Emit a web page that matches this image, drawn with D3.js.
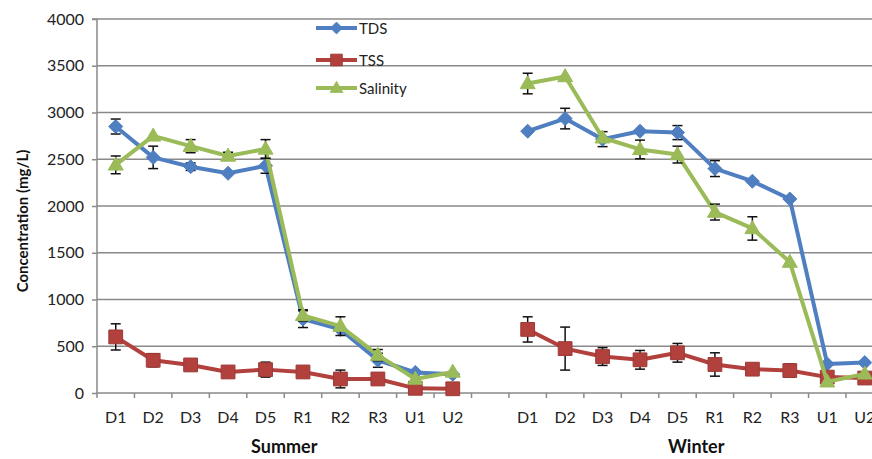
<!DOCTYPE html>
<html>
<head>
<meta charset="utf-8">
<script src="https://cdn.jsdelivr.net/npm/d3@7"></script>
<style>
  html, body { margin: 0; padding: 0; background: #fff; }
  svg { display: block; font-family: Lato, "Open Sans", sans-serif; }
</style>
</head>
<body>
<svg id="chart" width="872" height="459"></svg>
<script>
// Sampling sites; a blank slot separates the two seasons
const sites = ["D1", "D2", "D3", "D4", "D5", "R1", "R2", "R3", "U1", "U2"];
const seasons = ["Summer", "Winter"];
const yTicks = [0, 500, 1000, 1500, 2000, 2500, 3000, 3500, 4000];

// Concentrations (mg/L) per site, summer then winter
const tdsSummer = [2850, 2520, 2420, 2350, 2430, 790, 680, 350, 220, 200];
const tdsWinter = [2800, 2935, 2715, 2800, 2785, 2400, 2265, 2075, 310, 325];
const tssSummer = [600, 350, 300, 225, 250, 225, 150, 150, 50, 45];
const tssWinter = [680, 475, 390, 355, 430, 305, 255, 240, 170, 160];
const salSummer = [2440, 2750, 2640, 2535, 2610, 830, 715, 405, 150, 225];
const salWinter = [3310, 3385, 2730, 2605, 2550, 1935, 1760, 1400, 120, 205];

// Standard deviations (0 = no error bar shown)
const tdsErrSummer = [80, 120, 40, 0, 80, 90, 0, 75, 0, 0];
const tdsErrWinter = [0, 110, 80, 0, 75, 85, 0, 0, 0, 0];
const tssErrSummer = [140, 70, 0, 0, 80, 0, 95, 0, 0, 0];
const tssErrWinter = [135, 230, 95, 100, 100, 125, 0, 70, 0, 0];
const salErrSummer = [95, 0, 70, 40, 100, 60, 100, 60, 0, 0];
const salErrWinter = [110, 0, 0, 100, 90, 85, 125, 0, 0, 0];

const svg = d3.select("#chart");
const plotLeft = 97, plotTop = 19, plotBottom = 393, step = 37.45;
const nSlots = sites.length * 2 + 1;

const slots = d3.range(nSlots);
const x = d3.scaleBand().domain(slots).range([plotLeft, plotLeft + step * nSlots]).paddingInner(0).paddingOuter(0);
const y = d3.scaleLinear().domain([0, 4000]).range([plotBottom, plotTop]);

const slotOf = (season, i) => season === 0 ? i : sites.length + 1 + i;
const cx = s => x(s) + x.bandwidth() / 2;

// Gridlines
svg.append("g").selectAll("line").data(yTicks.filter(d => d > 0)).join("line")
  .attr("x1", plotLeft).attr("x2", 872)
  .attr("y1", d => y(d)).attr("y2", d => y(d))
  .attr("stroke", "#8a8a8a").attr("stroke-width", 1.5);

// Y axis
const yAxis = svg.append("g").attr("transform", `translate(${plotLeft},0)`)
  .call(d3.axisLeft(y).tickValues(yTicks).tickSize(5).tickPadding(8).tickFormat(d3.format("d")));
yAxis.select(".domain").attr("stroke", "#8a8a8a").attr("stroke-width", 1.5).attr("d", `M-5,${plotTop}H0V${plotBottom}`);
yAxis.selectAll(".tick line").attr("stroke", "#8a8a8a").attr("stroke-width", 1.5);
yAxis.selectAll(".tick text").attr("font-size", 16).attr("fill", "#222").attr("font-family", "Lato, sans-serif");

// X axis: tick marks on slot boundaries, labels at slot centres
const xLabels = slots.map(s => s < sites.length ? sites[s] : (s === sites.length ? "" : sites[s - sites.length - 1]));
const xg = svg.append("g");
xg.append("line").attr("x1", plotLeft).attr("x2", 872).attr("y1", plotBottom).attr("y2", plotBottom)
  .attr("stroke", "#8a8a8a").attr("stroke-width", 1.5);
xg.selectAll("line.tk").data(d3.range(nSlots + 1)).join("line").attr("class", "tk")
  .attr("x1", i => plotLeft + i * x.bandwidth()).attr("x2", i => plotLeft + i * x.bandwidth())
  .attr("y1", plotBottom).attr("y2", plotBottom + 5)
  .attr("stroke", "#8a8a8a").attr("stroke-width", 1.5);
xg.selectAll("text").data(slots).join("text")
  .attr("x", s => cx(s)).attr("y", 423)
  .attr("text-anchor", "middle").attr("font-size", 16).attr("fill", "#222")
  .text(s => xLabels[s]);

// Season titles
seasons.forEach((name, k) => {
  const mid = (cx(slotOf(k, 0)) + cx(slotOf(k, sites.length - 1))) / 2;
  svg.append("text").attr("x", mid).attr("y", 453)
    .attr("text-anchor", "middle").attr("font-size", 18).attr("font-weight", "bold").attr("fill", "#111")
    .text(name);
});

// Y title
svg.append("text").attr("transform", "translate(28,221) rotate(-90)")
  .attr("text-anchor", "middle").attr("font-size", 15).attr("font-weight", "bold").attr("fill", "#111")
  .text("Concentration (mg/L)");

const series = [
  { name: "TDS", color: "#4f7fc0", stroke: "#4f7fc0", shape: "diamond",
    data: [tdsSummer, tdsWinter], err: [tdsErrSummer, tdsErrWinter] },
  { name: "TSS", color: "#b2413d", stroke: "#9c3a36", shape: "square",
    data: [tssSummer, tssWinter], err: [tssErrSummer, tssErrWinter] },
  { name: "Salinity", color: "#9bbb59", stroke: "#9bbb59", shape: "triangle",
    data: [salSummer, salWinter], err: [salErrSummer, salErrWinter] }
];

// Rhombus marker: half-width w, half-height h
const rhombus = (w, h) => ({
  draw(ctx) { ctx.moveTo(0, -h); ctx.lineTo(w, 0); ctx.lineTo(0, h); ctx.lineTo(-w, 0); ctx.closePath(); }
});
// Triangle marker: half-width w, height h, centred vertically
const tri = (w, h) => ({
  draw(ctx) { ctx.moveTo(0, -h * 0.6); ctx.lineTo(w, h * 0.4); ctx.lineTo(-w, h * 0.4); ctx.closePath(); }
});
const markerPath = {
  diamond: d3.symbol().type(rhombus(7, 7))(),
  square: d3.symbol().type(d3.symbolSquare).size(190)(),
  triangle: d3.symbol().type(tri(7.5, 13))()
};

const line = d3.line().x(d => cx(d.slot)).y(d => y(d.v));

series.forEach(s => {
  const g = svg.append("g");
  const pts = [];
  [0, 1].forEach(k => {
    const seg = s.data[k].map((v, i) => ({ slot: slotOf(k, i), v, e: s.err[k][i] }));
    pts.push(...seg);
    g.append("path").datum(seg).attr("d", line)
      .attr("fill", "none").attr("stroke", s.color).attr("stroke-width", 4).attr("stroke-linejoin", "round");
  });
  // Error bars
  const eb = g.append("g").attr("stroke", "#111").attr("stroke-width", 1.5);
  pts.filter(p => p.e > 0).forEach(p => {
    const px = cx(p.slot);
    eb.append("line").attr("x1", px).attr("x2", px).attr("y1", y(p.v + p.e)).attr("y2", y(p.v - p.e));
    eb.append("line").attr("x1", px - 5).attr("x2", px + 5).attr("y1", y(p.v + p.e)).attr("y2", y(p.v + p.e));
    eb.append("line").attr("x1", px - 5).attr("x2", px + 5).attr("y1", y(p.v - p.e)).attr("y2", y(p.v - p.e));
  });
  // Markers
  g.selectAll("path.mk").data(pts).join("path").attr("class", "mk")
    .attr("d", markerPath[s.shape])
    .attr("transform", p => `translate(${cx(p.slot)},${y(p.v)})`)
    .attr("fill", s.color).attr("stroke", s.stroke).attr("stroke-width", 1);
});

// Legend
const legendRows = [28, 60, 88];
series.forEach((s, i) => {
  const lg = svg.append("g").attr("transform", `translate(316,${legendRows[i]})`);
  lg.append("line").attr("x1", 0).attr("x2", 41).attr("stroke", s.color).attr("stroke-width", 4);
  lg.append("path").attr("d", markerPath[s.shape]).attr("transform", "translate(20.5,0) scale(0.85)")
    .attr("fill", s.color).attr("stroke", s.stroke);
  lg.append("text").attr("x", 43).attr("y", 5.5).attr("font-size", 15).attr("fill", "#222").text(s.name);
});
</script>
</body>
</html>
